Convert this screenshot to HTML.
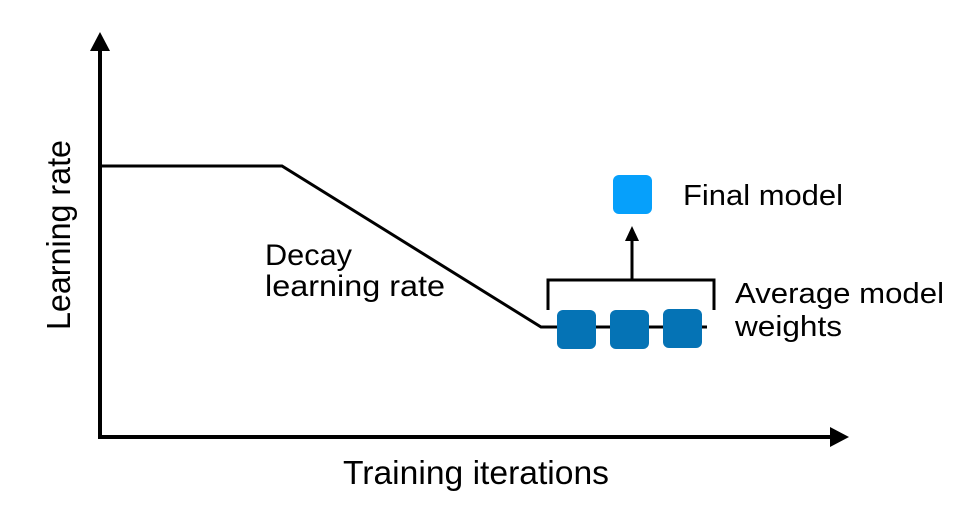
<!DOCTYPE html>
<html><head><meta charset="utf-8"><style>
html,body{margin:0;padding:0;background:#fff;width:974px;height:524px;overflow:hidden}
text{font-family:"Liberation Sans",Helvetica,Arial,sans-serif;fill:#000}
</style></head><body>
<svg width="974" height="524" viewBox="0 0 974 524" xmlns="http://www.w3.org/2000/svg">
<g stroke="#000" fill="none">
<line x1="100" y1="438" x2="100" y2="48" stroke-width="4"/>
<line x1="98" y1="437" x2="832" y2="437" stroke-width="4"/>
<polyline points="100,166 282,166 541,327 707,327" stroke-width="3"/>
<polyline points="548,310 548,280 714,280 714,310" stroke-width="3"/>
<line x1="632" y1="280" x2="632" y2="240" stroke-width="3"/>
</g>
<polygon points="100,32 90,51 110,51" fill="#000"/>
<polygon points="849,437 830,427 830,447" fill="#000"/>
<polygon points="632,226 625,241 639,241" fill="#000"/>
<rect x="557" y="310" width="39" height="39" rx="6" fill="#0573b5"/>
<rect x="610" y="310" width="39" height="39" rx="6" fill="#0573b5"/>
<rect x="663" y="309" width="39" height="39" rx="6" fill="#0573b5"/>
<rect x="613" y="175" width="39" height="39" rx="6" fill="#06a0fb"/>
<text x="683" y="205" font-size="29" textLength="160" lengthAdjust="spacingAndGlyphs">Final model</text>
<text x="735" y="303" font-size="29" textLength="209" lengthAdjust="spacingAndGlyphs">Average model</text>
<text x="735" y="336" font-size="29" textLength="107" lengthAdjust="spacingAndGlyphs">weights</text>
<text x="265" y="265" font-size="30" textLength="87" lengthAdjust="spacingAndGlyphs">Decay</text>
<text x="265" y="296" font-size="30" textLength="180" lengthAdjust="spacingAndGlyphs">learning rate</text>
<text x="343" y="484" font-size="33" textLength="266" lengthAdjust="spacingAndGlyphs">Training iterations</text>
<text transform="translate(70,330) rotate(-90)" font-size="33" textLength="190" lengthAdjust="spacingAndGlyphs">Learning rate</text>
</svg>
</body></html>
